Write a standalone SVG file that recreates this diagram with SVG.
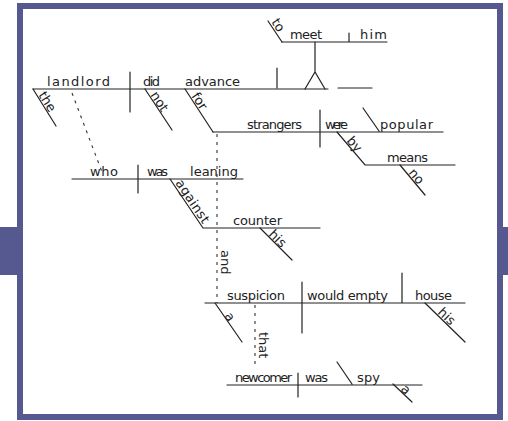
<svg xmlns="http://www.w3.org/2000/svg" width="508" height="421" viewBox="0 0 508 421">
<style>
.ln{stroke:#222;stroke-width:1.2;fill:none;stroke-linecap:round}
.dash{stroke:#333;stroke-width:1.1;fill:none;stroke-dasharray:3 5}
.w{font-family:"DejaVu Sans","Liberation Sans",sans-serif;font-size:13px;fill:#222}
.frame{fill:none;stroke:#55598f;stroke-width:6}
.tab{fill:#55598f}
</style>
<rect width="508" height="421" fill="#fff"/>
<rect class="tab" x="0" y="227" width="20" height="48"/>
<rect class="tab" x="497" y="227" width="11" height="48"/>
<rect class="frame" x="20" y="6" width="480" height="411"/>
<g id="connectors">
  <!-- main clause -->
  <path class="ln" d="M33 89 H328 M338 88 H372"/>
  <path class="ln" d="M130 72 V112"/>
  <path class="ln" d="M277 68 V88"/>
  <path class="ln" d="M305 89 L315 72 L325 89 M315 72 V42"/>
  <path class="ln" d="M282 42 H387 M349 33 V42"/>
  <path class="ln" d="M282 42 L268 21"/>
  <path class="ln" d="M33 89 L56 126"/>
  <path class="ln" d="M145 89 L172 130"/>
  <path class="ln" d="M185 89 L213 132"/>
  <!-- strangers were popular -->
  <path class="ln" d="M213 132 H443 M320 110 V147 M363 108 L379 131"/>
  <path class="ln" d="M337 132 L365 165 H455"/>
  <path class="ln" d="M400 165 L425 195"/>
  <!-- who was leaning -->
  <path class="dash" d="M72 93 L102 172"/>
  <path class="ln" d="M72 179 H243 M138 165 V193"/>
  <path class="ln" d="M170 179 L203 228 H320"/>
  <path class="ln" d="M260 228 L292 260"/>
  <!-- and -->
  <path class="dash" d="M217 134 V303"/>
  <!-- suspicion would empty house -->
  <path class="ln" d="M205 303 H465 M302 282 V333 M402 273 V303"/>
  <path class="ln" d="M215 303 L242 342"/>
  <path class="ln" d="M425 303 L465 342"/>
  <path class="dash" d="M255 305 V368"/>
  <!-- newcomer was spy -->
  <path class="ln" d="M227 385 H422 M298 373 V397 M337 362 L352 384"/>
  <path class="ln" d="M393 384 L412 402"/>
</g>
<g id="n-landlord"><text class="w" x="47" y="86" textLength="63">landlord</text></g>
<g id="n-the"><text class="w" transform="translate(38,95) rotate(58)">the</text></g>
<g id="n-did"><text class="w" x="143" y="86" textLength="17">did</text></g>
<g id="n-not"><text class="w" transform="translate(150,95) rotate(57)">not</text></g>
<g id="n-advance"><text class="w" x="185" y="86" textLength="55">advance</text></g>
<g id="n-for"><text class="w" transform="translate(191,96) rotate(57)">for</text></g>
<g id="n-to"><text class="w" transform="translate(271,22) rotate(57)">to</text></g>
<g id="n-meet"><text class="w" x="290" y="39" textLength="32">meet</text></g>
<g id="n-him"><text class="w" x="360" y="39" textLength="27">him</text></g>
<g id="n-strangers"><text class="w" x="247" y="129" textLength="55">strangers</text></g>
<g id="n-were"><text class="w" x="325" y="129" textLength="23">were</text></g>
<g id="n-popular"><text class="w" x="380" y="129" textLength="53">popular</text></g>
<g id="n-by"><text class="w" transform="translate(346,141) rotate(50)">by</text></g>
<g id="n-means"><text class="w" x="387" y="162" textLength="41">means</text></g>
<g id="n-no"><text class="w" transform="translate(408,173) rotate(50)">no</text></g>
<g id="n-who"><text class="w" x="90" y="176" textLength="28">who</text></g>
<g id="n-was1"><text class="w" x="147" y="176" textLength="21">was</text></g>
<g id="n-leaning"><text class="w" x="190" y="176" textLength="48">leaning</text></g>
<g id="n-against"><text class="w" transform="translate(175,183) rotate(56)" textLength="50">against</text></g>
<g id="n-counter"><text class="w" x="233" y="225" textLength="49">counter</text></g>
<g id="n-his1"><text class="w" transform="translate(268,235) rotate(45)">his</text></g>
<g id="n-and"><text class="w" transform="translate(221,250) rotate(90)">and</text></g>
<g id="n-suspicion"><text class="w" x="227" y="300" textLength="58">suspicion</text></g>
<g id="n-a1"><text class="w" transform="translate(224,316) rotate(55)">a</text></g>
<g id="n-would-empty"><text class="w" x="307" y="300" textLength="81">would empty</text></g>
<g id="n-house"><text class="w" x="415" y="300" textLength="37">house</text></g>
<g id="n-his2"><text class="w" transform="translate(437,313) rotate(44)">his</text></g>
<g id="n-that"><text class="w" transform="translate(259,332) rotate(90)">that</text></g>
<g id="n-newcomer"><text class="w" x="235" y="382" textLength="57">newcomer</text></g>
<g id="n-was2"><text class="w" x="305" y="382" textLength="23">was</text></g>
<g id="n-spy"><text class="w" x="357" y="382" textLength="23">spy</text></g>
<g id="n-a2"><text class="w" transform="translate(400,390) rotate(43)">a</text></g>
</svg>
